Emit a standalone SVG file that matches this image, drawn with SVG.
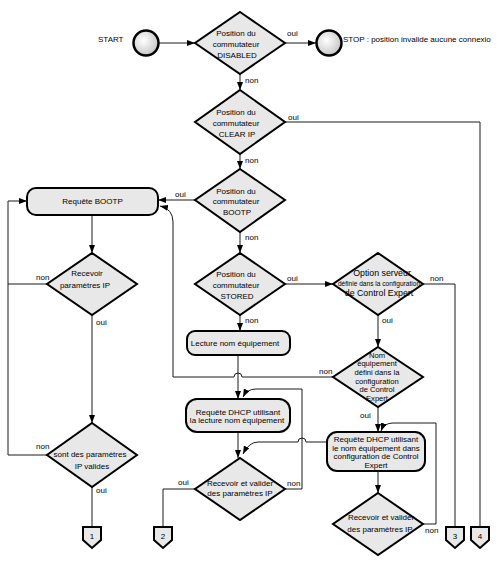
<svg xmlns="http://www.w3.org/2000/svg" width="498" height="567" viewBox="0 0 498 567">
<defs>
<radialGradient id="cg" cx="40%" cy="40%" r="65%"><stop offset="0" stop-color="#ffffff"/><stop offset="1" stop-color="#c4c4c4"/></radialGradient>
<marker id="ah" markerWidth="8" markerHeight="6" refX="8" refY="3" orient="auto" markerUnits="userSpaceOnUse"><path d="M0,0 L8,3 L0,6 z" fill="#000"/></marker>
</defs>
<style>
text{font-family:"Liberation Sans",Arial,sans-serif;font-size:8px;fill:#000}
.m{text-anchor:middle}
.shape{fill:#e8e8e8;stroke:#000;stroke-width:2}
.circ{fill:url(#cg);stroke:#000;stroke-width:2.5}
.ln{fill:none;stroke:#1a1a1a;stroke-width:1}
.ar{marker-end:url(#ah)}
.sm{font-size:6.6px}
.lg{font-size:8.8px}
.d6{font-size:7.6px}
</style>
<rect width="498" height="567" fill="#fff"/>

<g id="connectors">
<path class="ln ar" d="M158.5,43 H195"/>
<path class="ln ar" d="M285,43 H316"/>
<path class="ln ar" d="M240,74 V90"/>
<path class="ln" d="M285,122 H480 V527"/>
<path class="ln ar" d="M240,154 V169"/>
<path class="ln ar" d="M195,200 H158"/>
<path class="ln ar" d="M240,232 V253"/>
<path class="ln ar" d="M285,284 H333"/>
<path class="ln ar" d="M240,315 V331"/>
<path class="ln" d="M423,284 H455 V527"/>
<path class="ln ar" d="M378,315 V347"/>
<path class="ln ar" d="M333,377 H242 A4,4 0 0 0 234,377 H173 V222 Q173,209 160,206"/>
<path class="ln ar" d="M92,215 V253"/>
<path class="ln" d="M47,284 H8"/>
<path class="ln ar" d="M92,315 V423"/>
<path class="ln ar" d="M47,455 H8 V201 H27"/>
<path class="ln" d="M92,487 V527"/>
<path class="ln ar" d="M238,355 V399"/>
<path class="ln ar" d="M238,432 V458"/>
<path class="ln" d="M195,489 H163 V527"/>
<path class="ln ar" d="M285,489 H302 V389 H256 Q247,389 243,397"/>
<path class="ln ar" d="M327,442 H306 A4,4 0 0 0 298,442 H258 Q249,442 243,454"/>
<path class="ln ar" d="M378,407 V432"/>
<path class="ln ar" d="M378,471 V493"/>
<path class="ln ar" d="M423,524 H436 V423 H393 Q384,423 381,431"/>
<text x="287" y="36">oui</text>
<text x="245" y="83">non</text>
<text x="288" y="120">oui</text>
<text x="245" y="163">non</text>
<text x="175" y="197">oui</text>
<text x="245" y="240">non</text>
<text x="287" y="281">oui</text>
<text x="245" y="323">non</text>
<text x="430" y="281">non</text>
<text x="382" y="323">oui</text>
<text x="319" y="374">non</text>
<text x="360" y="418">oui</text>
<text x="36" y="280">non</text>
<text x="96" y="325">oui</text>
<text x="36" y="449">non</text>
<text x="96" y="493">oui</text>
<text x="178" y="485">oui</text>
<text x="287" y="486">non</text>
<text x="425" y="533">non</text>
</g>

<g id="start">
<text x="98" y="42">START</text>
<circle class="circ" cx="146" cy="43" r="12.5"/>
</g>
<g id="stop">
<circle class="circ" cx="329" cy="43" r="12.5"/>
<text x="343" y="42">STOP : position invalide aucune connexio</text>
</g>

<g id="d-disabled">
<path class="shape" d="M240,12 L285,43 L240,74 L195,43 Z"/>
<text class="m" x="236" y="36">Position du</text>
<text class="m" x="236" y="47">commutateur</text>
<text class="m" x="237" y="58">DISABLED</text>
</g>
<g id="d-clearip">
<path class="shape" d="M240,90 L285,122 L240,154 L195,122 Z"/>
<text class="m" x="236" y="115">Position du</text>
<text class="m" x="236" y="126">commutateur</text>
<text class="m" x="237" y="137">CLEAR IP</text>
</g>
<g id="d-bootp">
<path class="shape" d="M240,169 L285,200 L240,232 L195,200 Z"/>
<text class="m" x="236" y="194">Position du</text>
<text class="m" x="236" y="204">commutateur</text>
<text class="m" x="237" y="215">BOOTP</text>
</g>
<g id="d-stored">
<path class="shape" d="M240,253 L285,284 L240,315 L195,284 Z"/>
<text class="m" x="236" y="277">Position du</text>
<text class="m" x="236" y="288">commutateur</text>
<text class="m" x="237" y="299">STORED</text>
</g>
<g id="d-option">
<path class="shape" d="M378,253 L423,284 L378,315 L333,284 Z"/>
<text class="m lg" x="382" y="276">Option serveur</text>
<text class="m sm" x="379" y="286">définie dans la configuration</text>
<text class="m lg" x="379" y="296">de Control Expert</text>
</g>
<g id="d-nom">
<path class="shape" d="M378,347 L423,377 L378,407 L333,377 Z"/>
<text class="m d6" x="377" y="357.5">Nom</text>
<text class="m d6" x="377" y="366">équipement</text>
<text class="m d6" x="377" y="375">défini dans la</text>
<text class="m d6" x="377" y="383.5">configuration</text>
<text class="m d6" x="377" y="392">de Control</text>
<text class="m d6" x="377" y="401">Expert</text>
</g>
<g id="b-bootp">
<rect class="shape" x="27" y="188" width="131" height="27" rx="9"/>
<text class="m" x="92.5" y="204">Requête BOOTP</text>
</g>
<g id="d-recevoir">
<path class="shape" d="M92,253 L137,284 L92,315 L47,284 Z"/>
<text class="m" x="87" y="276">Recevoir</text>
<text class="m" x="85" y="288">paramètres IP</text>
</g>
<g id="d-valides">
<path class="shape" d="M92,423 L137,455 L92,487 L47,455 Z"/>
<text class="m" x="90" y="457">sont des paramètres</text>
<text class="m" x="92" y="469">IP valides</text>
</g>
<g id="b-lecture">
<rect class="shape" x="187" y="331" width="103" height="24" rx="8"/>
<text class="m" x="235" y="346">Lecture nom équipement</text>
</g>
<g id="b-dhcp1">
<rect class="shape" x="186" y="399" width="104" height="33" rx="11"/>
<text class="m" x="238" y="414.5">Requête DHCP utilisant</text>
<text class="m" x="237" y="423">la lecture nom équipement</text>
</g>
<g id="d-valider1">
<path class="shape" d="M240,458 L285,489 L240,520 L195,489 Z"/>
<text class="m" x="240" y="486">Recevoir et valider</text>
<text class="m" x="240" y="496">des paramètres IP</text>
</g>
<g id="b-dhcp2">
<rect class="shape" x="327" y="432" width="98" height="39" rx="10"/>
<text class="m" x="376" y="442">Requête DHCP utilisant</text>
<text class="m" x="376" y="450.7">le nom équipement dans</text>
<text class="m" x="376" y="459.4">configuration de Control</text>
<text class="m" x="376" y="468">Expert</text>
</g>
<g id="d-valider2">
<path class="shape" d="M378,493 L423,524 L378,555 L333,524 Z"/>
<text class="m" x="381" y="519.5">Recevoir et valider</text>
<text class="m" x="380" y="532">des paramètres IP</text>
</g>
<g id="c1">
<path class="shape" d="M83,527 H101 V540 L92,548 L83,540 Z"/>
<text class="m" x="92" y="539">1</text>
</g>
<g id="c2">
<path class="shape" d="M154,527 H172 V540 L163,548 L154,540 Z"/>
<text class="m" x="163" y="539">2</text>
</g>
<g id="c3">
<path class="shape" d="M446,527 H464 V540 L455,548 L446,540 Z"/>
<text class="m" x="455" y="539">3</text>
</g>
<g id="c4">
<path class="shape" d="M471,527 H489 V540 L480,548 L471,540 Z"/>
<text class="m" x="480" y="539">4</text>
</g>
</svg>
